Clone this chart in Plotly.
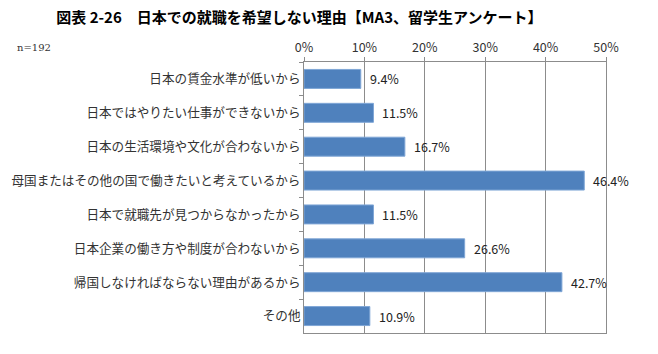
import plotly.graph_objects as go

categories = [
    "日本の賃金水準が低いから",
    "日本ではやりたい仕事ができないから",
    "日本の生活環境や文化が合わないから",
    "母国またはその他の国で働きたいと考えているから",
    "日本で就職先が見つからなかったから",
    "日本企業の働き方や制度が合わないから",
    "帰国しなければならない理由があるから",
    "その他",
]
values = [0.094, 0.115, 0.167, 0.464, 0.115, 0.266, 0.427, 0.109]
tick_vals = [0, 0.1, 0.2, 0.3, 0.4, 0.5]
tick_text = ["0%", "10%", "20%", "30%", "40%", "50%"]
title_text = "図表 2-26　日本での就職を希望しない理由【MA3、留学生アンケート】"
n_text = "n=192"

JP = "Noto Sans CJK JP"

fig = go.Figure()
fig.add_trace(go.Bar(
    x=values, y=categories, orientation="h",
    marker=dict(color="#4F81BD", line=dict(color="#7FA6D6", width=1)),
    width=0.56,
))

for c, v in zip(categories, values):
    fig.add_annotation(x=v, y=c, xref="x", yref="y", text=f"{v*100:.1f}%",
                       showarrow=False, xanchor="left", xshift=7,
                       font=dict(family=JP, size=12.5, color="#222222"))

fig.add_annotation(xref="paper", yref="paper", x=-0.957, y=1.052, text=n_text,
                   showarrow=False, xanchor="left", yanchor="middle",
                   font=dict(family="DejaVu Serif", size=10, color="#333333"))

fig.update_layout(
    width=658, height=354,
    margin=dict(l=304, r=52, t=62, b=21, autoexpand=False),
    paper_bgcolor="white", plot_bgcolor="white",
    showlegend=False,
    title=dict(text=title_text, x=0.455, xanchor="center", y=0.949, yanchor="middle",
               xref="container", yref="container",
               font=dict(family=JP, size=15, color="#000000", weight="bold")),
    xaxis=dict(side="top", range=[0, 0.5], tickvals=tick_vals, ticktext=tick_text,
               showgrid=True, gridcolor="#8C8C8C", gridwidth=1, automargin=False,
               showline=True, linecolor="#8C8C8C", mirror=True,
               ticks="outside", ticklen=4, tickcolor="#8C8C8C",
               tickfont=dict(family=JP, size=12.5, color="#333333"), zeroline=False),
    yaxis=dict(autorange="reversed", showline=True, linecolor="#8C8C8C", mirror=True,
               ticks="outside", ticklen=4, tickcolor="#8C8C8C", tickson="boundaries",
               showgrid=False, automargin=False,
               tickfont=dict(family=JP, size=12.6, color="#333333")),
)

fig.write_html("out.html")
